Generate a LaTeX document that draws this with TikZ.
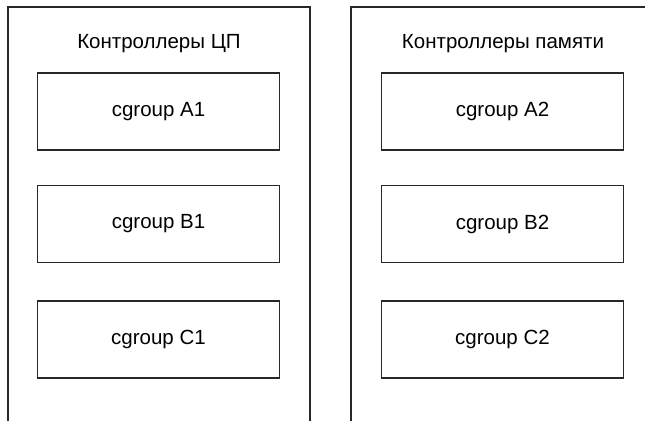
\documentclass[tikz,border=0pt]{standalone}
\usepackage{fontspec}
\setmainfont{Liberation Sans}
\usepackage{tikz}
\usetikzlibrary{positioning}
\definecolor{LineGray}{RGB}{40,40,40}

\begin{document}
\begin{tikzpicture}[x=1pt,y=-1pt,
  cbox/.style={draw=LineGray,line width=1.1pt,minimum width=242pt,minimum height=77pt,
               inner sep=0pt,font=\fontsize{20.5}{24}\selectfont},
  ptitle/.style={font=\fontsize{20.5}{24}\selectfont,inner sep=0pt},
  panel/.style={draw=LineGray,line width=1.1pt},
]
\useasboundingbox (0,0) rectangle (645,421);
% panels, open at the bottom
\draw[panel] (8,421) |- (310,7) -- (310,421);
\draw[panel] (351,421) |- (646,7);
\node[ptitle] (cpu) at (159,44) {Контроллеры ЦП};
\node[ptitle] (mem) at (503,44) {Контроллеры памяти};
% cgroups
\node[cbox] (a1) at (158.5,111.5) {cgroup A1};
\node[cbox] (b1) at (158.5,224) {cgroup B1};
\node[cbox] (c1) at (158.5,339.5) {cgroup C1};
\node[cbox] (a2) at (502.5,111.5) {cgroup A2};
\node[cbox] (b2) at (502.5,224) {cgroup B2};
\node[cbox] (c2) at (502.5,339.5) {cgroup C2};
\end{tikzpicture}
\end{document}
